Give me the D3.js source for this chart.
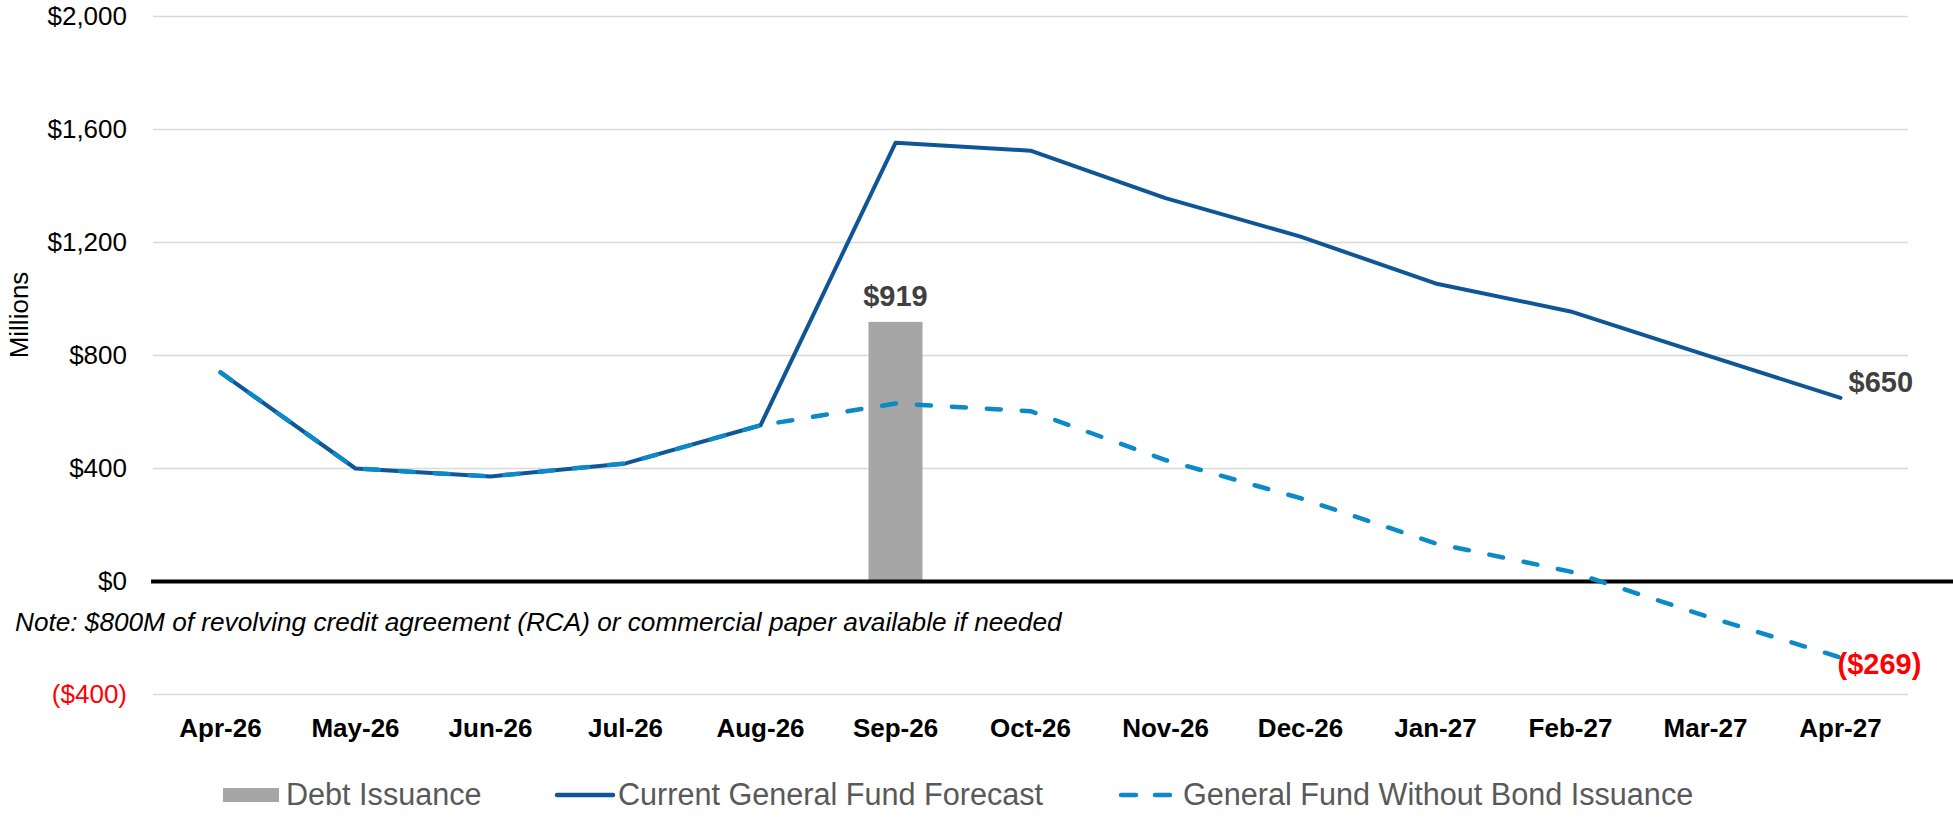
<!DOCTYPE html>
<html>
<head>
<meta charset="utf-8">
<script src="https://cdn.jsdelivr.net/npm/d3@7/dist/d3.min.js"></script>
<style>
  html, body { margin: 0; padding: 0; background: #ffffff; }
  svg { display: block; font-family: Arial, "Liberation Sans", sans-serif; }
</style>
</head>
<body>
<svg id="chart" width="1953" height="817"></svg>
<script>
// ---- data ----
const categories = ["Apr-26","May-26","Jun-26","Jul-26","Aug-26","Sep-26","Oct-26","Nov-26","Dec-26","Jan-27","Feb-27","Mar-27","Apr-27"];
const debtIssuance = [null, null, null, null, null, 919, null, null, null, null, null, null, null];
const currentForecast = [740, 400, 372, 418, 553, 1553, 1525, 1357, 1221, 1055, 956, 802, 650];
const withoutBond = [740, 400, 372, 418, 553, 630, 603, 430, 295, 135, 35, -122, -269];
const yTicks = [-400, 0, 400, 800, 1200, 1600, 2000];
const seriesNames = ["Debt Issuance", "Current General Fund Forecast", "General Fund Without Bond Issuance"];
const noteText = "Note: $800M of revolving credit agreement (RCA) or commercial paper available if needed";

// ---- layout ----
const svg = d3.select("#chart");
const plotLeft = 153, plotRight = 1908, plotTop = 16.5, plotBottom = 694.5;
const colSolid = "#0F5697", colDash = "#0B89C8", colBar = "#A6A6A6";

const x = d3.scaleBand().domain(categories).range([plotLeft, plotRight]).padding(0);
const xc = d => x(d) + x.bandwidth() / 2;
const y = d3.scaleLinear().domain([-400, 2000]).range([plotBottom, plotTop]);

const fmt = v => v < 0 ? "($" + d3.format(",")(-v) + ")" : "$" + d3.format(",")(v);

// gridlines
svg.append("g").selectAll("line").data(yTicks.filter(t => t !== 0)).join("line")
  .attr("x1", plotLeft).attr("x2", plotRight)
  .attr("y1", d => y(d)).attr("y2", d => y(d))
  .attr("stroke", "#D9D9D9").attr("stroke-width", 1.5);

// y axis labels
const yAxis = d3.axisLeft(y).tickValues(yTicks).tickFormat(fmt).tickSize(0).tickPadding(0);
const yg = svg.append("g").attr("transform", `translate(127,0)`).call(yAxis);
yg.select(".domain").remove();
yg.selectAll("text")
  .attr("font-size", 26).attr("font-family", "Arial, 'Liberation Sans', sans-serif")
  .attr("fill", d => d < 0 ? "#FF0000" : "#000000");

// axis title
svg.append("text")
  .attr("transform", "translate(28,315) rotate(-90)")
  .attr("text-anchor", "middle")
  .attr("font-size", 26).attr("fill", "#000")
  .text("Millions");

// x axis labels
const xAxis = d3.axisBottom(x).tickSize(0).tickPadding(0);
const xg = svg.append("g").attr("transform", `translate(0,718)`).call(xAxis);
xg.select(".domain").remove();
xg.selectAll("text")
  .attr("font-size", 26).attr("font-weight", "bold")
  .attr("font-family", "Arial, 'Liberation Sans', sans-serif")
  .attr("fill", "#000").attr("dy", "0.72em");

// bars
const barW = x.bandwidth() * 0.4;
svg.append("g").selectAll("rect")
  .data(categories.map((c, i) => ({c, v: debtIssuance[i]})).filter(d => d.v != null))
  .join("rect")
  .attr("x", d => xc(d.c) - barW / 2)
  .attr("width", barW)
  .attr("y", d => y(d.v))
  .attr("height", d => y(0) - y(d.v))
  .attr("fill", colBar);

// zero line
svg.append("line")
  .attr("x1", plotLeft - 2).attr("x2", 1953)
  .attr("y1", y(0)).attr("y2", y(0))
  .attr("stroke", "#000").attr("stroke-width", 4);

// lines
const line = d3.line().x((d, i) => xc(categories[i])).y(d => y(d));
svg.append("path").datum(currentForecast)
  .attr("d", line).attr("fill", "none")
  .attr("stroke", colSolid).attr("stroke-width", 4)
  .attr("stroke-linejoin", "round").attr("stroke-linecap", "round");
svg.append("path").datum(withoutBond)
  .attr("d", line).attr("fill", "none")
  .attr("stroke", colDash).attr("stroke-width", 4.5)
  .attr("stroke-dasharray", "14,21")
  .attr("stroke-linejoin", "round").attr("stroke-linecap", "round");

// data labels
const labelFont = 29;
categories.forEach((c, i) => {
  if (debtIssuance[i] != null) {
    svg.append("text").attr("x", xc(c)).attr("y", y(debtIssuance[i]) - 16)
      .attr("text-anchor", "middle").attr("font-size", labelFont).attr("font-weight", "bold")
      .attr("fill", "#404040").text(fmt(debtIssuance[i]));
  }
});
const last = categories.length - 1;
svg.append("text").attr("x", xc(categories[last]) + 8).attr("y", y(currentForecast[last]) - 6)
  .attr("font-size", labelFont).attr("font-weight", "bold").attr("fill", "#404040")
  .text(fmt(currentForecast[last]));
svg.append("text").attr("x", xc(categories[last]) - 3).attr("y", y(withoutBond[last]) + 17)
  .attr("font-size", labelFont).attr("font-weight", "bold").attr("fill", "#FF0000")
  .text(fmt(withoutBond[last]));

// note
svg.append("text").attr("x", 15).attr("y", 631)
  .attr("font-size", 26.2).attr("font-style", "italic").attr("fill", "#000")
  .text(noteText);

// legend
const legY = 795, legBase = 805, legFont = 30.6;
const lg = svg.append("g");
lg.append("rect").attr("x", 223).attr("y", 788).attr("width", 56).attr("height", 14).attr("fill", colBar);
lg.append("text").attr("x", 286).attr("y", legBase).attr("font-size", legFont).attr("fill", "#595959").text(seriesNames[0]);
lg.append("line").attr("x1", 557).attr("x2", 613).attr("y1", legY).attr("y2", legY)
  .attr("stroke", colSolid).attr("stroke-width", 4.5).attr("stroke-linecap", "round");
lg.append("text").attr("x", 618).attr("y", legBase).attr("font-size", legFont).attr("fill", "#595959").text(seriesNames[1]);
lg.append("line").attr("x1", 1121).attr("x2", 1173).attr("y1", legY).attr("y2", legY)
  .attr("stroke", colDash).attr("stroke-width", 4.5).attr("stroke-linecap", "round")
  .attr("stroke-dasharray", "15,19");
lg.append("text").attr("x", 1183).attr("y", legBase).attr("font-size", legFont).attr("fill", "#595959").text(seriesNames[2]);
</script>
</body>
</html>
